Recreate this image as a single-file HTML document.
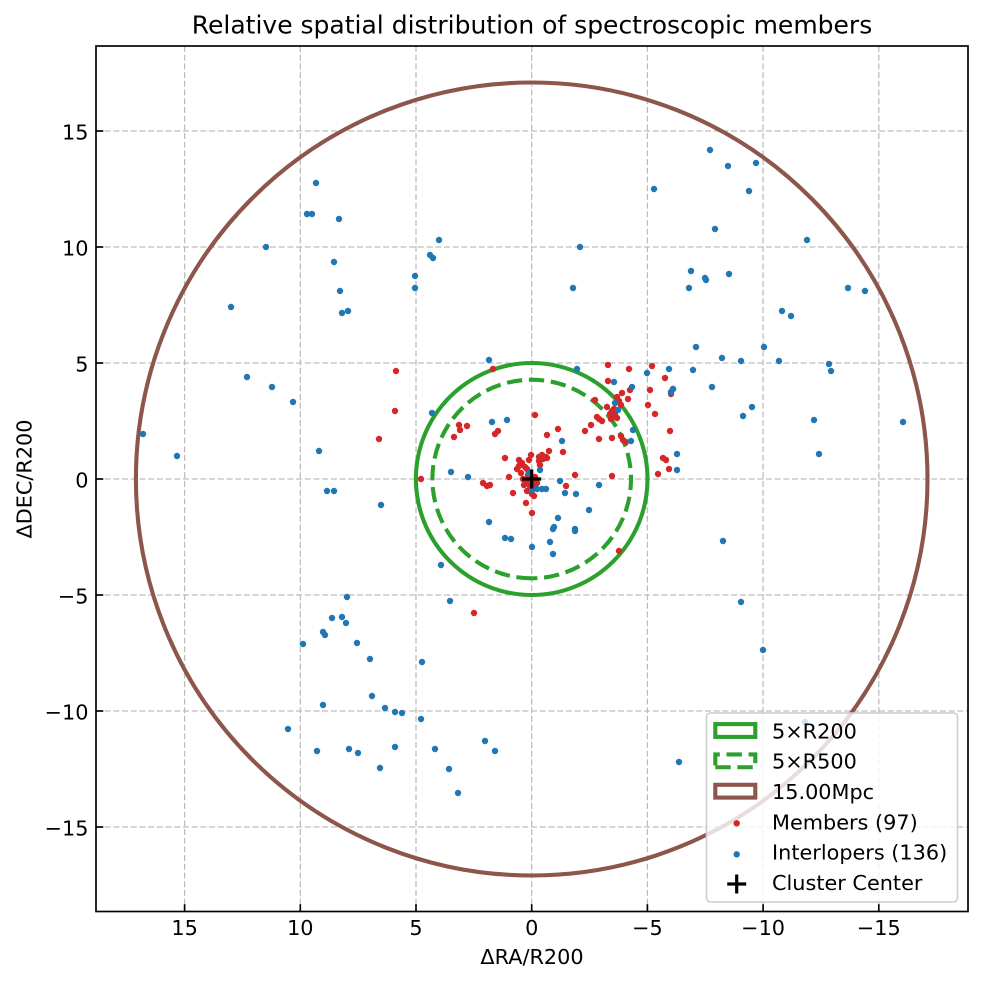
<!DOCTYPE html>
<html><head><meta charset="utf-8"><style>
html,body{margin:0;padding:0;background:#fff;}
svg{display:block;}
text{font-family:"DejaVu Sans","Liberation Sans",sans-serif;fill:#000;}
</style></head><body>
<svg width="982" height="984" viewBox="0 0 982 984" xmlns="http://www.w3.org/2000/svg">
<rect width="982" height="984" fill="#fff"/>
<defs><clipPath id="ax"><rect x="96" y="46" width="872" height="865.5"/></clipPath></defs>
<!-- grid -->
<g stroke="#bdbdbd" stroke-width="1.3" stroke-dasharray="6 2.7" fill="none">
<line x1="184.6" y1="46" x2="184.6" y2="911.5"/>
<line x1="300.3" y1="46" x2="300.3" y2="911.5"/>
<line x1="416" y1="46" x2="416" y2="911.5"/>
<line x1="531.7" y1="46" x2="531.7" y2="911.5"/>
<line x1="647.4" y1="46" x2="647.4" y2="911.5"/>
<line x1="763.1" y1="46" x2="763.1" y2="911.5"/>
<line x1="878.8" y1="46" x2="878.8" y2="911.5"/>
<line x1="96" y1="131" x2="968" y2="131"/>
<line x1="96" y1="247" x2="968" y2="247"/>
<line x1="96" y1="363" x2="968" y2="363"/>
<line x1="96" y1="479" x2="968" y2="479"/>
<line x1="96" y1="595" x2="968" y2="595"/>
<line x1="96" y1="711" x2="968" y2="711"/>
<line x1="96" y1="827" x2="968" y2="827"/>
</g>
<g clip-path="url(#ax)" fill="none">
<ellipse cx="531.7" cy="479" rx="395.8" ry="396.5" stroke="#8c564b" stroke-width="4.1"/>
<ellipse cx="531.7" cy="479" rx="115.8" ry="116" stroke="#2ca02c" stroke-width="4.1"/>
<path d="M531.7,578.3 A99.3 99.3 0 0 1 432.4,479 A99.3 99.3 0 0 1 531.7,379.7 A99.3 99.3 0 0 1 631,479 A99.3 99.3 0 0 1 531.7,578.3 Z" stroke="#2ca02c" stroke-width="4.1" stroke-dasharray="15.4 6.67"/>
</g>
<!-- members -->
<g fill="#d62728" clip-path="url(#ax)">
<circle cx="396" cy="371" r="3.2"/><circle cx="395" cy="411" r="3.2"/><circle cx="379" cy="439" r="3.2"/><circle cx="421" cy="479" r="3.2"/><circle cx="474" cy="613" r="3.2"/>
<circle cx="608" cy="365" r="3.2"/><circle cx="652" cy="366" r="3.2"/><circle cx="629" cy="369" r="3.2"/><circle cx="493" cy="369" r="3.2"/><circle cx="608" cy="381" r="3.2"/><circle cx="665" cy="378" r="3.2"/><circle cx="650" cy="390" r="3.2"/><circle cx="630" cy="390" r="3.2"/><circle cx="622" cy="393" r="3.2"/><circle cx="628" cy="399" r="3.2"/><circle cx="617" cy="397" r="3.2"/><circle cx="595" cy="400" r="3.2"/><circle cx="621" cy="405" r="3.2"/><circle cx="607" cy="407" r="3.2"/><circle cx="612" cy="411" r="3.2"/><circle cx="615" cy="415" r="3.2"/><circle cx="611" cy="419" r="3.2"/><circle cx="617" cy="418" r="3.2"/><circle cx="610" cy="414" r="3.2"/><circle cx="597" cy="417" r="3.2"/><circle cx="599" cy="419" r="3.2"/><circle cx="591" cy="425" r="3.2"/><circle cx="585" cy="431" r="3.2"/><circle cx="599" cy="439" r="3.2"/><circle cx="612" cy="438" r="3.2"/><circle cx="621" cy="436" r="3.2"/><circle cx="623" cy="440" r="3.2"/><circle cx="626" cy="442" r="3.2"/><circle cx="648" cy="405" r="3.2"/><circle cx="655" cy="414" r="3.2"/><circle cx="670" cy="431" r="3.2"/><circle cx="673" cy="389" r="3.2"/><circle cx="671" cy="394" r="3.2"/><circle cx="535" cy="415" r="3.2"/><circle cx="459" cy="425" r="3.2"/><circle cx="460" cy="430" r="3.2"/><circle cx="467" cy="426" r="3.2"/><circle cx="454" cy="437" r="3.2"/><circle cx="495" cy="434" r="3.2"/><circle cx="498" cy="431" r="3.2"/><circle cx="558" cy="429" r="3.2"/><circle cx="547" cy="435" r="3.2"/><circle cx="563" cy="452" r="3.2"/><circle cx="549" cy="451" r="3.2"/><circle cx="505" cy="458" r="3.2"/><circle cx="531" cy="455" r="3.2"/><circle cx="539" cy="457" r="3.2"/><circle cx="542" cy="455" r="3.2"/><circle cx="546" cy="457" r="3.2"/><circle cx="539" cy="461" r="3.2"/><circle cx="543" cy="459" r="3.2"/><circle cx="547" cy="458" r="3.2"/><circle cx="519" cy="460" r="3.2"/><circle cx="522" cy="463" r="3.2"/><circle cx="525" cy="467" r="3.2"/><circle cx="517" cy="469" r="3.2"/><circle cx="527" cy="469" r="3.2"/><circle cx="509" cy="477" r="3.2"/><circle cx="521" cy="473" r="3.2"/><circle cx="523" cy="479" r="3.2"/><circle cx="527" cy="481" r="3.2"/><circle cx="534" cy="482" r="3.2"/><circle cx="535" cy="477" r="3.2"/><circle cx="535" cy="487" r="3.2"/><circle cx="527" cy="491" r="3.2"/><circle cx="532" cy="494" r="3.2"/><circle cx="534" cy="496" r="3.2"/><circle cx="513" cy="493" r="3.2"/><circle cx="526" cy="503" r="3.2"/><circle cx="532" cy="513" r="3.2"/><circle cx="483" cy="483" r="3.2"/><circle cx="487" cy="486" r="3.2"/><circle cx="490" cy="485" r="3.2"/><circle cx="575" cy="475" r="3.2"/><circle cx="566" cy="486" r="3.2"/><circle cx="612" cy="476" r="3.2"/><circle cx="658" cy="474" r="3.2"/><circle cx="663" cy="458" r="3.2"/><circle cx="666" cy="460" r="3.2"/><circle cx="669" cy="469" r="3.2"/><circle cx="619" cy="551" r="3.2"/>
<circle cx="528" cy="475" r="3.2"/><circle cx="530" cy="478" r="3.2"/><circle cx="537" cy="483" r="3.2"/><circle cx="524" cy="485" r="3.2"/><circle cx="540" cy="465" r="3.2"/><circle cx="519" cy="466" r="3.2"/><circle cx="530" cy="486" r="3.2"/><circle cx="614" cy="409" r="3.2"/><circle cx="619" cy="401" r="3.2"/><circle cx="602" cy="421" r="3.2"/><circle cx="529" cy="460" r="3.2"/>
</g>
<!-- interlopers -->
<g fill="#1f77b4" clip-path="url(#ax)">
<circle cx="316" cy="183" r="3.2"/><circle cx="307" cy="214" r="3.2"/><circle cx="312" cy="214" r="3.2"/><circle cx="339" cy="219" r="3.2"/><circle cx="266" cy="247" r="3.2"/><circle cx="334" cy="262" r="3.2"/><circle cx="439" cy="240" r="3.2"/><circle cx="430" cy="255" r="3.2"/><circle cx="433" cy="258" r="3.2"/><circle cx="415" cy="276" r="3.2"/><circle cx="415" cy="288" r="3.2"/><circle cx="340" cy="291" r="3.2"/><circle cx="231" cy="307" r="3.2"/><circle cx="342" cy="313" r="3.2"/><circle cx="348" cy="311" r="3.2"/>
<circle cx="247" cy="377" r="3.2"/><circle cx="272" cy="387" r="3.2"/><circle cx="293" cy="402" r="3.2"/><circle cx="143" cy="434" r="3.2"/><circle cx="177" cy="456" r="3.2"/><circle cx="319" cy="451" r="3.2"/><circle cx="432" cy="413" r="3.2"/>
<circle cx="327" cy="491" r="3.2"/><circle cx="334" cy="491" r="3.2"/><circle cx="381" cy="505" r="3.2"/><circle cx="489" cy="522" r="3.2"/><circle cx="441" cy="565" r="3.2"/><circle cx="347" cy="597" r="3.2"/><circle cx="450" cy="601" r="3.2"/><circle cx="332" cy="618" r="3.2"/><circle cx="342" cy="617" r="3.2"/><circle cx="346" cy="623" r="3.2"/><circle cx="323" cy="632" r="3.2"/><circle cx="325" cy="635" r="3.2"/><circle cx="303" cy="644" r="3.2"/><circle cx="357" cy="643" r="3.2"/><circle cx="370" cy="659" r="3.2"/><circle cx="422" cy="662" r="3.2"/><circle cx="372" cy="696" r="3.2"/><circle cx="323" cy="705" r="3.2"/><circle cx="385" cy="708" r="3.2"/><circle cx="395" cy="712" r="3.2"/><circle cx="402" cy="713" r="3.2"/><circle cx="421" cy="719" r="3.2"/><circle cx="288" cy="729" r="3.2"/><circle cx="317" cy="751" r="3.2"/><circle cx="349" cy="749" r="3.2"/><circle cx="358" cy="753" r="3.2"/><circle cx="395" cy="747" r="3.2"/><circle cx="380" cy="768" r="3.2"/><circle cx="435" cy="749" r="3.2"/><circle cx="449" cy="769" r="3.2"/><circle cx="458" cy="793" r="3.2"/><circle cx="485" cy="741" r="3.2"/><circle cx="495" cy="751" r="3.2"/>
<circle cx="710" cy="150" r="3.2"/><circle cx="728" cy="166" r="3.2"/><circle cx="756" cy="163" r="3.2"/><circle cx="749" cy="191" r="3.2"/><circle cx="654" cy="189" r="3.2"/><circle cx="715" cy="229" r="3.2"/><circle cx="807" cy="240" r="3.2"/><circle cx="580" cy="247" r="3.2"/><circle cx="573" cy="288" r="3.2"/><circle cx="691" cy="271" r="3.2"/><circle cx="689" cy="288" r="3.2"/><circle cx="705" cy="278" r="3.2"/><circle cx="706" cy="280" r="3.2"/><circle cx="729" cy="274" r="3.2"/><circle cx="848" cy="288" r="3.2"/><circle cx="865" cy="291" r="3.2"/><circle cx="782" cy="311" r="3.2"/><circle cx="791" cy="316" r="3.2"/>
<circle cx="696" cy="347" r="3.2"/><circle cx="722" cy="358" r="3.2"/><circle cx="741" cy="361" r="3.2"/><circle cx="764" cy="347" r="3.2"/><circle cx="779" cy="361" r="3.2"/><circle cx="829" cy="364" r="3.2"/><circle cx="831" cy="371" r="3.2"/><circle cx="693" cy="370" r="3.2"/><circle cx="712" cy="387" r="3.2"/><circle cx="671" cy="392" r="3.2"/><circle cx="752" cy="407" r="3.2"/><circle cx="743" cy="416" r="3.2"/><circle cx="814" cy="420" r="3.2"/><circle cx="903" cy="422" r="3.2"/><circle cx="819" cy="454" r="3.2"/><circle cx="723" cy="541" r="3.2"/><circle cx="741" cy="602" r="3.2"/><circle cx="763" cy="650" r="3.2"/>
<circle cx="489" cy="360" r="3.2"/><circle cx="577" cy="369" r="3.2"/><circle cx="647" cy="373" r="3.2"/><circle cx="669" cy="369" r="3.2"/><circle cx="614" cy="382" r="3.2"/><circle cx="632" cy="387" r="3.2"/><circle cx="673" cy="389" r="3.2"/><circle cx="615" cy="403" r="3.2"/><circle cx="618" cy="410" r="3.2"/><circle cx="633" cy="430" r="3.2"/><circle cx="631" cy="441" r="3.2"/><circle cx="492" cy="422" r="3.2"/><circle cx="507" cy="420" r="3.2"/><circle cx="562" cy="441" r="3.2"/><circle cx="677" cy="454" r="3.2"/><circle cx="677" cy="470" r="3.2"/><circle cx="451" cy="472" r="3.2"/><circle cx="468" cy="477" r="3.2"/><circle cx="540" cy="470" r="3.2"/><circle cx="529" cy="473" r="3.2"/><circle cx="560" cy="481" r="3.2"/><circle cx="537" cy="489" r="3.2"/><circle cx="542" cy="489" r="3.2"/><circle cx="546" cy="489" r="3.2"/><circle cx="532" cy="490" r="3.2"/><circle cx="565" cy="493" r="3.2"/><circle cx="576" cy="494" r="3.2"/><circle cx="599" cy="485" r="3.2"/><circle cx="589" cy="510" r="3.2"/><circle cx="558" cy="518" r="3.2"/><circle cx="554" cy="527" r="3.2"/><circle cx="553" cy="529" r="3.2"/><circle cx="575" cy="529" r="3.2"/><circle cx="575" cy="531" r="3.2"/><circle cx="505" cy="538" r="3.2"/><circle cx="511" cy="539" r="3.2"/><circle cx="550" cy="542" r="3.2"/><circle cx="532" cy="547" r="3.2"/><circle cx="553" cy="554" r="3.2"/>
<circle cx="679" cy="762" r="3.2"/><circle cx="805" cy="722" r="3.2"/>
</g>
<!-- cluster center -->
<g stroke="#000" stroke-width="3.2">
<line x1="522.2" y1="479" x2="541.2" y2="479"/>
<line x1="531.7" y1="469.5" x2="531.7" y2="488.5"/>
</g>
<!-- legend -->
<rect x="706.5" y="713" width="251" height="189" rx="4" ry="4" fill="#fff" fill-opacity="0.8" stroke="#cccccc" stroke-width="1.6"/>
<rect x="715.3" y="724.1" width="40" height="12.8" fill="none" stroke="#2ca02c" stroke-width="4.1"/>
<path d="M715.3,767.25 L755.3,767.25 L755.3,754.45 L715.3,754.45 Z" fill="none" stroke="#2ca02c" stroke-width="4.1" stroke-dasharray="15.4 6.67"/>
<rect x="715.3" y="784.8" width="40" height="12.8" fill="none" stroke="#8c564b" stroke-width="4.1"/>
<circle cx="736.7" cy="823.3" r="3.2" fill="#d62728"/>
<circle cx="736.7" cy="854.3" r="3.2" fill="#1f77b4"/>
<g stroke="#000" stroke-width="3.2">
<line x1="727.2" y1="884" x2="746.2" y2="884"/>
<line x1="736.7" y1="874.5" x2="736.7" y2="893.5"/>
</g>
<g font-size="20.8">
<text x="772" y="738.3">5×R200</text>
<text x="772" y="768.65">5×R500</text>
<text x="772" y="799">15.00Mpc</text>
<text x="772" y="829.35">Members (97)</text>
<text x="772" y="859.7">Interlopers (136)</text>
<text x="772" y="890.05">Cluster Center</text>
</g>
<!-- spines -->
<rect x="96" y="46" width="872" height="865.5" fill="none" stroke="#000" stroke-width="1.67"/>
<!-- ticks -->
<g stroke="#000" stroke-width="1.67">
<line x1="184.6" y1="911.5" x2="184.6" y2="904.2"/>
<line x1="300.3" y1="911.5" x2="300.3" y2="904.2"/>
<line x1="416" y1="911.5" x2="416" y2="904.2"/>
<line x1="531.7" y1="911.5" x2="531.7" y2="904.2"/>
<line x1="647.4" y1="911.5" x2="647.4" y2="904.2"/>
<line x1="763.1" y1="911.5" x2="763.1" y2="904.2"/>
<line x1="878.8" y1="911.5" x2="878.8" y2="904.2"/>
<line x1="96" y1="131" x2="103.3" y2="131"/>
<line x1="96" y1="247" x2="103.3" y2="247"/>
<line x1="96" y1="363" x2="103.3" y2="363"/>
<line x1="96" y1="479" x2="103.3" y2="479"/>
<line x1="96" y1="595" x2="103.3" y2="595"/>
<line x1="96" y1="711" x2="103.3" y2="711"/>
<line x1="96" y1="827" x2="103.3" y2="827"/>
</g>
<g font-size="20.8" text-anchor="middle">
<text x="184.6" y="935">15</text>
<text x="300.3" y="935">10</text>
<text x="416" y="935">5</text>
<text x="531.7" y="935">0</text>
<text x="647.4" y="935">−5</text>
<text x="763.1" y="935">−10</text>
<text x="878.8" y="935">−15</text>
</g>
<g font-size="20.8" text-anchor="end">
<text x="88.5" y="139.3">15</text>
<text x="88.5" y="255.3">10</text>
<text x="88.5" y="371.3">5</text>
<text x="88.5" y="487.3">0</text>
<text x="88.5" y="603.3">−5</text>
<text x="88.5" y="719.3">−10</text>
<text x="88.5" y="835.3">−15</text>
</g>
<text x="532" y="964" font-size="20.8" text-anchor="middle">ΔRA/R200</text>
<text transform="translate(31.6,479) rotate(-90)" font-size="20.8" text-anchor="middle">ΔDEC/R200</text>
<text x="532" y="33.5" font-size="25" text-anchor="middle">Relative spatial distribution of spectroscopic members</text>
</svg>
</body></html>
